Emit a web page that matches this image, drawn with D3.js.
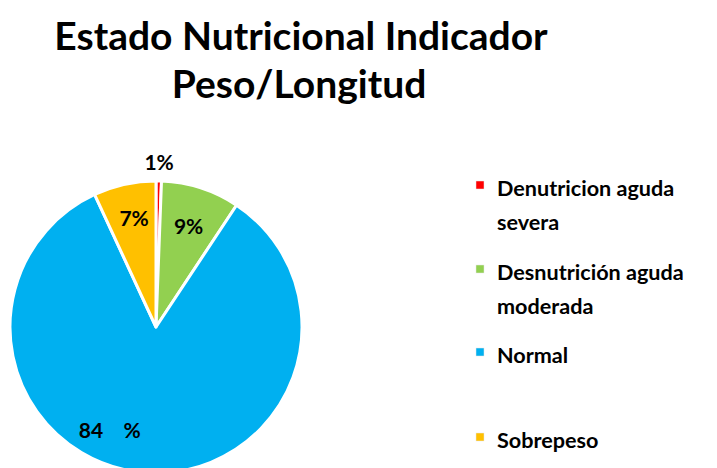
<!DOCTYPE html>
<html lang="en">
<head>
<meta charset="UTF-8">
<title>Estado Nutricional</title>
<style>
  body { margin: 0; background: #fff; }
  text { font-family: Lato, "Open Sans", sans-serif; font-weight: bold; fill: #000; }
</style>
</head>
<body>
<svg width="717" height="468"></svg>
<script src="https://cdn.jsdelivr.net/npm/d3@7/dist/d3.min.js"></script>
<script>
  // data
  const categories = ['Denutricion aguda severa', 'Desnutrición aguda moderada', 'Normal', 'Sobrepeso'];
  const values = [0.6, 8.7, 83.8, 6.9];
  const sliceLabels = ['1%', '9%', '84    %', '7%'];
  const colors = ['#FF0000', '#92D050', '#00B0F0', '#FFC000'];
  const legendLines = [['Denutricion aguda', 'severa'], ['Desnutrición aguda', 'moderada'], ['Normal'], ['Sobrepeso']];

  const svg = d3.select('svg');

  // title
  svg.append('text')
      .attr('x', 301).attr('y', 50)
      .attr('text-anchor', 'middle')
      .style('font-size', '39px')
      .text('Estado Nutricional Indicador');
  svg.append('text')
      .attr('x', 299).attr('y', 98)
      .attr('text-anchor', 'middle')
      .style('font-size', '39px')
      .text('Peso/Longitud');

  const cx = 156, cy = 327, radius = 146;
  const pie = d3.pie().sort(null).value(d => d);
  const arcs = pie(values);
  const arc = d3.arc().innerRadius(0).outerRadius(radius);

  const chart = svg.append('g').attr('transform', `translate(${cx}, ${cy})`);

  chart.selectAll('path')
      .data(arcs)
      .enter()
      .append('path')
      .attr('d', arc)
      .attr('fill', (d, i) => colors[i])
      .attr('stroke', '#fff')
      .attr('stroke-width', 3)
      .attr('stroke-linejoin', 'round');

  // label positions: fraction of radius along mid angle, then small nudges
  const labelRadius = [1.12, 0.73, 0.75, 0.73];
  const labelDx = [0, 0, -38, 1];
  const labelDy = [-2, 0, -7, -5];
  const labelPos = (d, i) => d3.arc()
      .innerRadius(radius * labelRadius[i])
      .outerRadius(radius * labelRadius[i])
      .centroid(d);
  chart.selectAll('.lbl')
      .data(arcs)
      .enter()
      .append('text')
      .attr('class', 'lbl')
      .attr('text-anchor', 'middle')
      .attr('dominant-baseline', 'central')
      .style('font-size', '21px')
      .style('white-space', 'pre')
      .attr('x', (d, i) => labelPos(d, i)[0] + labelDx[i])
      .attr('y', (d, i) => labelPos(d, i)[1] + labelDy[i])
      .text((d, i) => sliceLabels[i]);

  // legend
  const legendY = [188, 272, 355, 440];
  const legend = svg.append('g');
  categories.forEach((c, i) => {
    const g = legend.append('g').attr('transform', `translate(476, ${legendY[i]})`);
    g.append('rect')
        .attr('x', 0).attr('y', -7)
        .attr('width', 8).attr('height', 8)
        .attr('fill', colors[i])
        .attr('stroke', '#e6e6e6').attr('stroke-width', 0.5);
    legendLines[i].forEach((line, j) => {
      g.append('text')
          .attr('x', 21).attr('y', j * 34)
          .attr('dominant-baseline', 'central')
          .style('font-size', '21.6px')
          .text(line);
    });
  });
</script>
</body>
</html>
